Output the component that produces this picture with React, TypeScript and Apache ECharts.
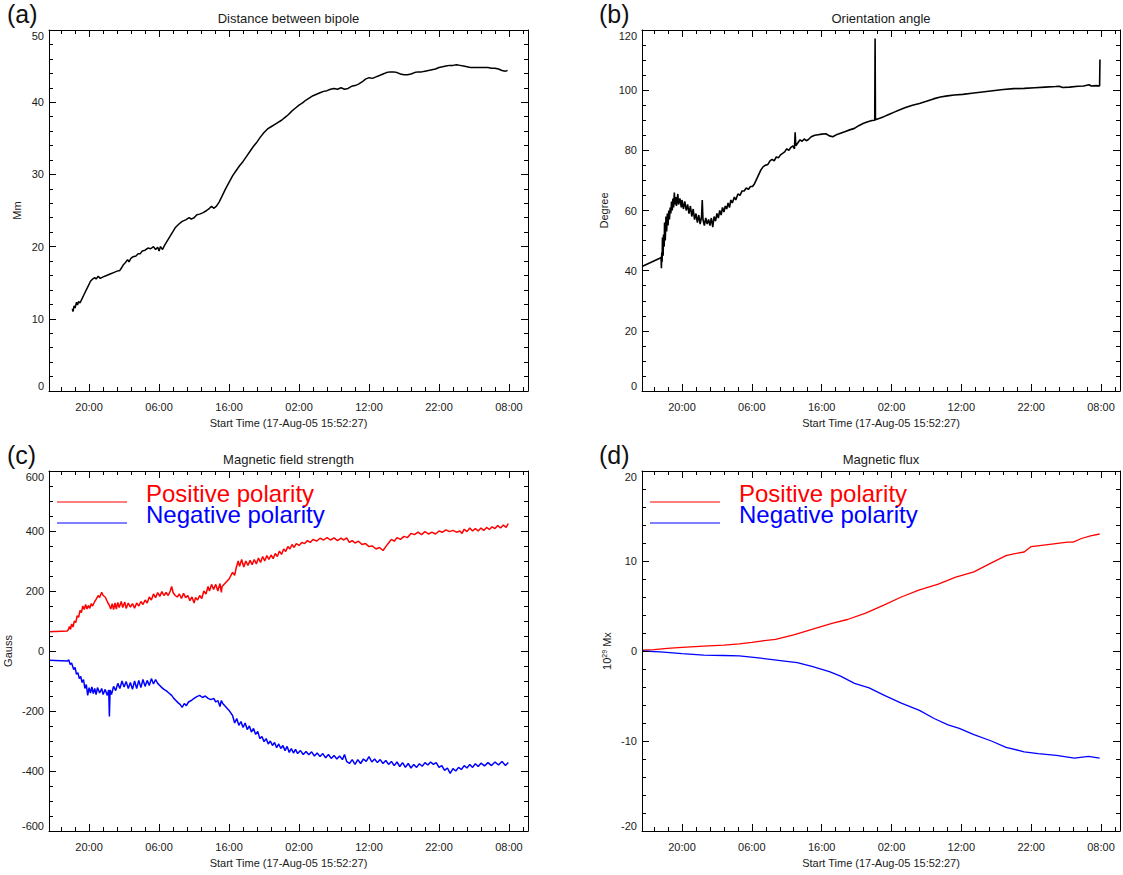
import React, { useEffect, useRef } from 'react';
import * as echarts from 'echarts';

const FONT = '"Liberation Sans", Arial, Helvetica, sans-serif';
const TEXT = '#1a1a1a';
const X_NAME = 'Start Time (17-Aug-05 15:52:27)';
// time axis in hours since 17-Aug-05 00:00
const X_MIN = 14.27;
const X_MAX = 82.72;
const majorTimeTicks = [20, 30, 40, 50, 60, 70, 80];
const minorTimeTicks: number[] = [];
for (let h = 16; h <= 82; h += 2) if (h % 10 !== 0) minorTimeTicks.push(h);

const panelLetters = ['(a)', '(b)', '(c)', '(d)'];
const panelTitles = ['Distance between bipole', 'Orientation angle', 'Magnetic field strength', 'Magnetic flux'];
const legendNames = ['Positive polarity', 'Negative polarity'];

// (a) distance between bipole, Mm
const distanceData: [number, number][] = [
  [17.6, 11.4], [17.7, 11.0], [17.85, 11.8], [18.0, 11.5], [18.2, 12.3], [18.35, 11.9], [18.5, 12.4], [18.7, 12.2],
  [19.0, 12.8], [19.3, 13.4], [19.6, 14.0], [19.9, 14.6], [20.2, 15.2], [20.5, 15.5], [20.8, 15.7], [21.0, 15.5],
  [21.3, 15.9], [21.6, 15.6], [22.0, 15.8], [22.5, 16.0], [23.0, 16.2], [23.5, 16.4], [24.0, 16.6], [24.4, 16.7],
  [24.6, 17.0], [24.9, 17.5], [25.2, 17.8], [25.5, 18.2], [25.7, 17.9], [26.0, 18.4], [26.3, 18.6], [26.7, 18.7],
  [27.0, 19.0], [27.3, 19.0], [27.6, 19.4], [28.0, 19.5], [28.4, 19.8], [28.8, 19.7], [29.2, 20.0], [29.5, 19.6],
  [29.8, 19.9], [30.0, 19.4], [30.2, 20.0], [30.5, 19.6], [30.8, 20.2], [31.3, 21.0], [31.8, 21.8], [32.3, 22.6],
  [32.8, 23.1], [33.3, 23.5], [33.8, 23.7], [34.3, 24.0], [34.6, 23.8], [35.0, 24.0], [35.4, 24.4], [35.8, 24.5],
  [36.3, 24.7], [36.8, 25.0], [37.2, 25.3], [37.5, 25.6], [37.8, 25.3], [38.2, 25.6], [38.6, 26.2], [39.0, 27.0],
  [39.5, 28.0], [40.0, 28.9], [40.5, 29.8], [41.0, 30.5], [41.5, 31.2], [42.0, 31.8], [42.5, 32.5], [43.0, 33.2],
  [43.5, 33.9], [44.0, 34.5], [44.5, 35.2], [45.0, 35.8], [45.5, 36.3], [46.0, 36.6], [46.5, 36.9], [47.0, 37.2],
  [47.5, 37.5], [48.0, 37.9], [48.5, 38.3], [49.0, 38.8], [49.5, 39.2], [50.0, 39.6], [50.5, 39.9], [51.0, 40.3],
  [51.5, 40.6], [52.0, 40.9], [52.5, 41.1], [53.0, 41.3], [53.5, 41.5], [54.0, 41.6], [54.5, 41.8], [55.0, 41.9],
  [55.5, 41.8], [56.0, 42.0], [56.5, 41.8], [57.0, 41.9], [57.5, 42.2], [58.0, 42.3], [58.5, 42.5], [59.0, 42.8],
  [59.5, 43.2], [60.0, 43.4], [60.5, 43.3], [61.0, 43.5], [61.5, 43.7], [62.0, 43.9], [62.5, 44.1], [63.0, 44.2],
  [63.5, 44.2], [64.0, 44.1], [64.5, 43.9], [65.0, 43.8], [65.5, 43.8], [66.0, 43.9], [66.5, 44.1], [67.0, 44.2],
  [67.5, 44.2], [68.0, 44.3], [68.5, 44.4], [69.0, 44.5], [69.5, 44.6], [70.0, 44.8], [70.5, 44.9], [71.0, 45.0],
  [71.5, 45.1], [72.0, 45.1], [72.5, 45.2], [73.0, 45.1], [73.5, 45.0], [74.0, 44.9], [74.5, 44.8], [75.0, 44.8],
  [76.0, 44.8], [77.0, 44.8], [77.5, 44.7], [78.0, 44.7], [78.5, 44.6], [79.0, 44.4], [79.5, 44.3], [79.8, 44.4],
];

// (b) orientation angle, degree
const angleData: [number, number][] = [
  [14.27, 41.4], [16.9, 44.2], [17.0, 44.5], [17.05, 40.8], [17.1, 46], [17.15, 43], [17.2, 51], [17.3, 45],
  [17.35, 52], [17.45, 48], [17.5, 56], [17.6, 50], [17.7, 58], [17.8, 53], [17.9, 59], [18.0, 55], [18.1, 60],
  [18.2, 57], [18.3, 61], [18.4, 59], [18.5, 63], [18.6, 60], [18.7, 64], [18.8, 61], [18.9, 66], [19.0, 62],
  [19.1, 64.5], [19.2, 61.5], [19.4, 65.5], [19.5, 62], [19.7, 64], [19.9, 61], [20.0, 63.5], [20.2, 60.5],
  [20.4, 63], [20.6, 60], [20.8, 62], [21.0, 59], [21.2, 61.5], [21.4, 58], [21.6, 60.5], [21.8, 57], [22.0, 59],
  [22.2, 56], [22.4, 58.5], [22.6, 55.5], [22.8, 58], [22.9, 63.5], [23.0, 57], [23.2, 55], [23.4, 57.5],
  [23.6, 55.5], [23.8, 57], [24.0, 55], [24.2, 57.5], [24.4, 54.5], [24.6, 58], [24.8, 56.5], [25.0, 59],
  [25.2, 57.5], [25.4, 60], [25.6, 58.5], [25.8, 61], [26.0, 59.5], [26.2, 61.5], [26.4, 60.5], [26.6, 62.5],
  [26.8, 61], [27.0, 63.5], [27.2, 62.5], [27.5, 64.5], [27.7, 63.5], [28.0, 65.5], [28.3, 65], [28.6, 66.5],
  [28.9, 66.5], [29.2, 67.5], [29.5, 67], [29.8, 68], [30.1, 68], [30.4, 69], [30.7, 70.5], [31.0, 72],
  [31.3, 73.5], [31.6, 74.5], [31.9, 75], [32.3, 75.3], [32.6, 76.5], [32.9, 77], [33.2, 76.5], [33.5, 77.8],
  [33.8, 77.5], [34.1, 78.5], [34.4, 79], [34.7, 79.5], [35.0, 80.5], [35.3, 80], [35.6, 81], [35.9, 81.5],
  [36.1, 80.5], [36.2, 86], [36.3, 81.5], [36.6, 82.5], [36.9, 83.5], [37.2, 83], [37.5, 83.8], [37.8, 83.2],
  [38.1, 83.6], [38.5, 84.5], [39.0, 85], [39.5, 85.2], [40.0, 85.4], [40.6, 85.5], [41.1, 84.8], [41.6, 84.5],
  [42.2, 85.3], [42.8, 85.8], [43.4, 86.3], [44.0, 86.8], [44.7, 87.3], [45.3, 88.2], [46.0, 89.0], [46.6, 89.5],
  [47.2, 89.9], [47.6, 90], [47.65, 117.2], [47.7, 90.2], [48.2, 90.6], [48.9, 91.2], [49.6, 91.9], [50.4, 92.7],
  [51.2, 93.5], [52.0, 94.2], [53.0, 95.0], [54.0, 95.6], [55.0, 96.3], [56.0, 97.1], [57.0, 97.7], [58.0, 98.1],
  [59.0, 98.4], [60.2, 98.6], [61.5, 99.0], [63.0, 99.4], [64.5, 99.8], [66.0, 100.2], [67.5, 100.5], [69.0, 100.6],
  [70.5, 100.8], [72.0, 101.0], [73.5, 101.2], [74.0, 101.3], [74.5, 100.9], [75.5, 101.0], [76.7, 101.3],
  [77.5, 101.4], [78.3, 101.8], [78.6, 101.4], [79.3, 101.5], [79.8, 101.4], [79.85, 110.2],
];

// (c) magnetic field strength, Gauss
const fieldPositive: [number, number][] = [
  [14.27, 64], [16.9, 67], [17.0, 70], [17.2, 82], [17.35, 72], [17.5, 90], [17.7, 80], [17.9, 100], [18.1, 95],
  [18.3, 118], [18.5, 112], [18.7, 135], [18.9, 128], [19.1, 150], [19.3, 138], [19.5, 155], [19.7, 140],
  [19.9, 152], [20.1, 142], [20.3, 158], [20.5, 150], [20.8, 165], [21.0, 172], [21.3, 185], [21.5, 178],
  [21.8, 196], [22.0, 185], [22.3, 180], [22.5, 170], [22.7, 160], [22.9, 152], [23.1, 140], [23.3, 158],
  [23.5, 138], [23.7, 160], [23.9, 140], [24.1, 162], [24.3, 145], [24.6, 165], [24.8, 145], [25.1, 163],
  [25.3, 142], [25.6, 160], [25.9, 146], [26.2, 158], [26.5, 143], [26.8, 160], [27.1, 150], [27.4, 165],
  [27.7, 155], [28.0, 170], [28.3, 160], [28.6, 180], [28.9, 170], [29.2, 190], [29.5, 178], [29.8, 195],
  [30.1, 182], [30.4, 198], [30.7, 185], [31.0, 195], [31.3, 185], [31.6, 200], [31.8, 215], [32.0, 195],
  [32.3, 185], [32.6, 180], [32.9, 190], [33.2, 175], [33.5, 192], [33.8, 178], [34.1, 185], [34.4, 168],
  [34.7, 180], [35.0, 160], [35.2, 178], [35.5, 170], [35.8, 185], [36.1, 175], [36.4, 200], [36.7, 190],
  [37.0, 215], [37.2, 200], [37.5, 222], [37.8, 205], [38.1, 222], [38.4, 200], [38.7, 225], [38.9, 195],
  [39.0, 215], [40.0, 240], [40.5, 262], [40.8, 252], [41.0, 275], [41.3, 300], [41.5, 282], [41.8, 305],
  [42.1, 280], [42.4, 300], [42.7, 285], [43.0, 302], [43.3, 288], [43.6, 305], [43.9, 290], [44.2, 310],
  [44.5, 295], [44.8, 315], [45.1, 300], [45.4, 318], [45.7, 305], [46.0, 320], [46.3, 308], [46.6, 325],
  [46.9, 315], [47.2, 333], [47.5, 322], [47.8, 340], [48.1, 332], [48.4, 348], [48.7, 340], [49.0, 355],
  [49.3, 345], [49.6, 358], [50.0, 352], [50.4, 362], [50.8, 358], [51.2, 368], [51.6, 362], [52.0, 372],
  [52.5, 366], [53.0, 376], [53.5, 370], [54.0, 378], [54.5, 370], [55.0, 377], [55.5, 368], [56.0, 376],
  [56.4, 370], [56.8, 377], [57.2, 362], [57.6, 368], [58.0, 360], [58.5, 366], [59.0, 355], [59.5, 358],
  [60.0, 348], [60.5, 350], [61.0, 340], [61.5, 345], [62.0, 335], [62.4, 348], [62.8, 360], [63.2, 372],
  [63.6, 366], [64.0, 378], [64.5, 372], [65.0, 382], [65.5, 378], [66.0, 392], [66.5, 388], [67.0, 396],
  [67.5, 388], [68.0, 398], [68.5, 390], [69.0, 396], [69.5, 390], [70.0, 400], [70.5, 396], [71.0, 404],
  [71.5, 398], [72.0, 402], [72.5, 396], [73.0, 400], [73.3, 392], [73.6, 406], [74.0, 398], [74.4, 410],
  [74.8, 400], [75.2, 408], [75.6, 400], [76.0, 410], [76.4, 402], [76.8, 412], [77.2, 405], [77.6, 414],
  [78.0, 408], [78.4, 418], [78.8, 410], [79.2, 420], [79.6, 412], [79.9, 425],
];
const fieldNegative: [number, number][] = [
  [14.27, -31], [16.9, -33], [17.1, -30], [17.3, -45], [17.5, -40], [17.8, -62], [18.0, -55], [18.2, -78],
  [18.4, -72], [18.6, -92], [18.8, -85], [19.0, -105], [19.2, -95], [19.4, -125], [19.6, -112], [19.8, -148],
  [20.0, -122], [20.2, -140], [20.4, -120], [20.6, -142], [20.8, -125], [21.0, -145], [21.2, -122], [21.5, -140],
  [21.8, -125], [22.0, -145], [22.3, -128], [22.6, -148], [22.8, -130], [22.9, -218], [23.0, -130], [23.2, -145],
  [23.5, -118], [23.8, -132], [24.1, -108], [24.4, -125], [24.7, -100], [25.0, -120], [25.3, -102], [25.6, -125],
  [25.9, -105], [26.2, -128], [26.5, -100], [26.8, -125], [27.1, -98], [27.4, -122], [27.7, -95], [28.0, -118],
  [28.3, -98], [28.6, -115], [28.9, -92], [29.2, -110], [29.5, -95], [29.8, -108], [30.1, -115], [30.4, -122],
  [30.7, -128], [31.0, -132], [31.4, -140], [31.8, -148], [32.1, -158], [32.4, -165], [32.7, -172], [33.0, -178],
  [33.3, -188], [33.6, -175], [33.9, -182], [34.2, -170], [34.6, -165], [35.0, -158], [35.4, -152], [35.8, -148],
  [36.2, -155], [36.6, -150], [37.0, -158], [37.4, -162], [37.8, -158], [38.1, -170], [38.4, -165], [38.7, -185],
  [38.9, -165], [39.1, -175], [40.0, -198], [40.5, -215], [40.8, -240], [41.1, -225], [41.4, -248], [41.7, -235],
  [42.0, -255], [42.3, -240], [42.6, -262], [42.9, -250], [43.2, -270], [43.5, -258], [43.8, -278], [44.1, -268],
  [44.4, -292], [44.7, -285], [45.0, -302], [45.3, -292], [45.6, -310], [45.9, -300], [46.2, -315], [46.5, -305],
  [46.8, -322], [47.1, -310], [47.4, -325], [47.7, -315], [48.0, -332], [48.3, -318], [48.6, -338], [48.9, -325],
  [49.2, -340], [49.5, -328], [49.8, -342], [50.2, -332], [50.6, -345], [51.0, -335], [51.4, -346], [51.8, -336],
  [52.2, -350], [52.6, -340], [53.0, -352], [53.4, -342], [53.8, -356], [54.2, -345], [54.6, -358], [55.0, -348],
  [55.4, -360], [55.8, -350], [56.2, -362], [56.5, -345], [56.8, -368], [57.2, -375], [57.6, -362], [58.0, -378],
  [58.4, -362], [58.8, -375], [59.2, -360], [59.6, -368], [60.0, -352], [60.4, -370], [60.8, -360], [61.2, -372],
  [61.6, -362], [62.0, -375], [62.4, -365], [62.8, -378], [63.2, -368], [63.6, -382], [64.0, -370], [64.4, -385],
  [64.8, -372], [65.2, -388], [65.6, -375], [66.0, -390], [66.4, -378], [66.8, -388], [67.2, -376], [67.6, -384],
  [68.0, -372], [68.4, -380], [68.8, -370], [69.2, -378], [69.6, -372], [70.0, -388], [70.4, -382], [70.8, -398],
  [71.2, -390], [71.6, -408], [72.0, -392], [72.4, -400], [72.8, -388], [73.2, -395], [73.6, -382], [74.0, -390],
  [74.4, -378], [74.8, -388], [75.2, -376], [75.6, -385], [76.0, -374], [76.5, -383], [77.0, -372], [77.5, -382],
  [78.0, -370], [78.5, -380], [79.0, -368], [79.5, -382], [79.9, -372],
];

// (d) magnetic flux, 10^29 Mx
const fluxPositive: [number, number][] = [
  [14.3, 0.1], [16.0, 0.15], [17.9, 0.3], [20.0, 0.4], [23.1, 0.55], [26.0, 0.65], [28.2, 0.8], [30.0, 0.95],
  [31.3, 1.1], [33.4, 1.3], [36.0, 1.8], [38.6, 2.4], [41.6, 3.1], [43.7, 3.5], [46.3, 4.2], [48.9, 5.1],
  [51.4, 6.0], [54.0, 6.8], [56.6, 7.4], [59.2, 8.2], [61.8, 8.8], [64.3, 9.8], [66.4, 10.6], [67.5, 10.8],
  [69.0, 11.0], [70.0, 11.6], [72.1, 11.8], [75.2, 12.1], [76.0, 12.1], [77.2, 12.5], [78.5, 12.8], [79.8, 13.0],
];
const fluxNegative: [number, number][] = [
  [14.3, 0.0], [16.9, -0.1], [20.0, -0.3], [23.1, -0.45], [26.0, -0.5], [28.2, -0.55], [31.3, -0.8],
  [34.4, -1.1], [36.5, -1.3], [38.6, -1.7], [41.1, -2.3], [42.7, -2.8], [44.7, -3.6], [46.8, -4.1], [48.9, -4.9],
  [51.4, -5.8], [54.0, -6.6], [56.1, -7.5], [58.1, -8.2], [59.7, -8.6], [61.8, -9.3], [64.3, -10.0],
  [66.4, -10.7], [69.0, -11.2], [71.0, -11.4], [73.6, -11.6], [76.2, -11.9], [78.2, -11.7], [79.8, -11.9],
];

const yRanges = [
  { min: 0, max: 50, interval: 10, split: 5, name: 'Mm', gap: 27 },
  { min: 0, max: 120, interval: 20, split: 4, name: 'Degree', gap: 33 },
  { min: -600, max: 600, interval: 200, split: 4, name: 'Gauss', gap: 36 },
  { min: -20, max: 20, interval: 10, split: 5, name: '10{sup|29} Mx', gap: 30 },
];

const grids = [
  { left: 49, top: 30, width: 479, height: 361 },
  { left: 642, top: 30, width: 478, height: 361 },
  { left: 49, top: 471, width: 479, height: 360 },
  { left: 642, top: 471, width: 478, height: 360 },
];

function fmtHour(v: number) {
  const h = ((Math.round(v) % 24) + 24) % 24;
  return (h < 10 ? '0' : '') + h + ':00';
}

export default function App() {
  const ref = useRef<HTMLDivElement>(null);
  useEffect(() => {
    if (!ref.current) return;
    const chart = echarts.init(ref.current, null, { renderer: 'svg' });
    const xAxis: any[] = [];
    const yAxis: any[] = [];
    for (let g = 0; g < 4; g++) {
      const ls = () => ({ color: '#000000', width: 1 });
      const al = () => ({ color: '#000', width: 1 });
      const base = () => ({ gridIndex: g, type: 'value', min: X_MIN, max: X_MAX, splitLine: { show: false }, z: 5 });
      xAxis.push(
        { ...base(), position: 'bottom', axisLine: { show: true, onZero: false, lineStyle: al() },
          axisTick: { show: true, inside: true, length: 7, customValues: majorTimeTicks, lineStyle: ls() },
          axisLabel: { show: true, customValues: majorTimeTicks, formatter: fmtHour, margin: 10, fontSize: 11, color: TEXT, fontFamily: FONT },
          name: X_NAME, nameLocation: 'middle', nameGap: 26, nameTextStyle: { fontSize: 11, color: TEXT, fontFamily: FONT } },
        { ...base(), position: 'bottom', axisLine: { show: false, onZero: false },
          axisTick: { show: true, inside: true, length: 4, customValues: minorTimeTicks, lineStyle: ls() }, axisLabel: { show: false } },
        { ...base(), position: 'top', axisLine: { show: true, onZero: false, lineStyle: al() },
          axisTick: { show: true, inside: true, length: 7, customValues: majorTimeTicks, lineStyle: ls() }, axisLabel: { show: false } },
        { ...base(), position: 'top', axisLine: { show: false, onZero: false },
          axisTick: { show: true, inside: true, length: 4, customValues: minorTimeTicks, lineStyle: ls() }, axisLabel: { show: false } },
      );
      const r = yRanges[g];
      const yb = () => ({
        gridIndex: g, type: 'value', min: r.min, max: r.max, interval: r.interval, splitLine: { show: false }, z: 5,
        axisLine: { show: true, onZero: false, lineStyle: al() },
        axisTick: { show: true, inside: true, length: 7, lineStyle: ls() },
        minorTick: { show: true, splitNumber: r.split, length: 4, lineStyle: ls() },
      });
      yAxis.push(
        { ...yb(), position: 'left',
          axisLabel: { show: true, margin: 5, fontSize: 11, color: TEXT, fontFamily: FONT, verticalAlignMaxLabel: 'top', verticalAlignMinLabel: 'bottom' },
          name: r.name, nameLocation: 'middle', nameGap: r.gap,
          nameTextStyle: { fontSize: 11, color: TEXT, fontFamily: FONT, rich: { sup: { fontSize: 7, verticalAlign: 'top', padding: [0, 0, 4, 0] } } } },
        { ...yb(), position: 'right', axisLabel: { show: false } },
      );
    }
    const line = (g: number, data: [number, number][], color: string, width: number) => ({
      type: 'line', xAxisIndex: g * 4, yAxisIndex: g * 2, data, showSymbol: false,
      lineStyle: { color, width },
    });
    const graphic: any[] = [];
    grids.forEach((gr, i) => {
      graphic.push({
        type: 'text', x: gr.left + gr.width / 2, y: gr.top - 12,
        style: { text: panelTitles[i], font: `13px ${FONT}`, fill: TEXT, align: 'center', verticalAlign: 'middle' },
      });
      graphic.push({
        type: 'text', x: i % 2 === 0 ? 7 : 599, y: gr.top - 16,
        style: { text: panelLetters[i], font: `25px ${FONT}`, fill: '#111', align: 'left', verticalAlign: 'middle' },
      });
    });
    [2, 3].forEach((i) => {
      const gr = grids[i];
      const lx = gr.left + 8;
      const tx = gr.left + 97;
      const entries: [number, string, string][] = [[502, '#ff0000', legendNames[0]], [523, '#0000ff', legendNames[1]]];
      entries.forEach(([y, c, t]) => {
        graphic.push({ type: 'rect', shape: { x: lx, y: y - 0.6, width: 70, height: 1.2 }, style: { fill: c } });
        graphic.push({
          type: 'text', x: tx, y: y - 9,
          style: { text: t, font: `24px ${FONT}`, fill: c, align: 'left', verticalAlign: 'middle' },
        });
      });
    });
    chart.setOption({
      animation: false,
      grid: grids.map((g) => ({ ...g })),
      xAxis,
      yAxis,
      series: [
        line(0, distanceData, '#000000', 1.5),
        line(1, angleData, '#000000', 1.6),
        line(2, fieldPositive, '#ff0000', 1.5),
        line(2, fieldNegative, '#0000ff', 1.5),
        line(3, fluxPositive, '#ff0000', 1.3),
        line(3, fluxNegative, '#0000ff', 1.3),
      ],
      graphic,
    });
    return () => chart.dispose();
  }, []);
  return <div ref={ref} style={{ position: 'absolute', left: 0, top: 0, width: 1123, height: 875, background: '#fff' }} />;
}
